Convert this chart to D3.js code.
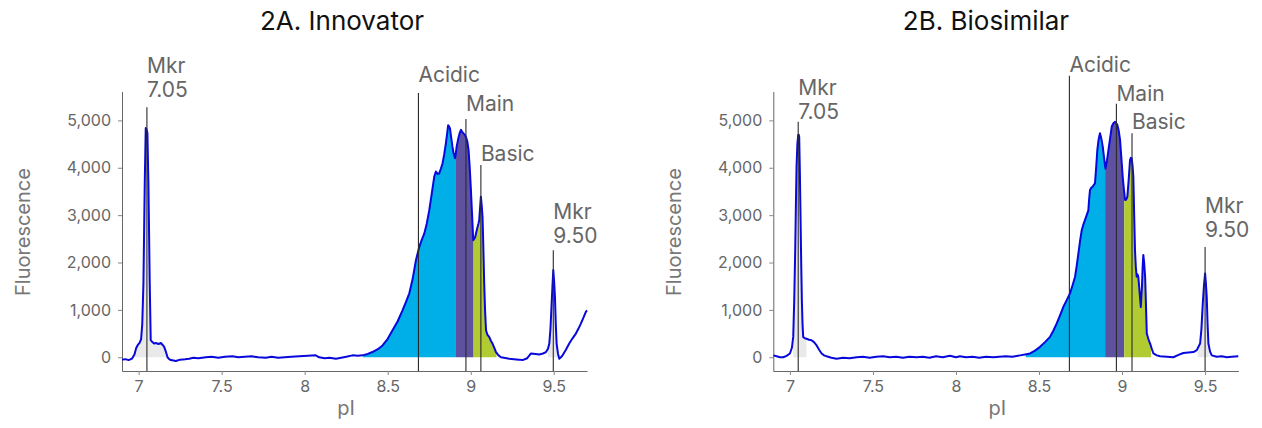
<!DOCTYPE html>
<html>
<head>
<meta charset="utf-8">
<script src="https://cdn.jsdelivr.net/npm/d3@7"></script>
<style>
  body { margin: 0; background: #fff; font-family: Inter, "Open Sans", sans-serif; }
  .tick text { font-family: Inter, sans-serif; }
</style>
</head>
<body>
<script>
// data
let innovatorPI = [6.90,6.92,6.94,6.96,6.975,6.985,6.995,7.005,7.015,7.022,7.029,7.037,7.043,7.047,7.053,7.059,7.067,7.073,7.083,7.093,7.104,7.12,7.134,7.145,7.154,7.164,7.174,7.184,7.194,7.21,7.224,7.25,7.28,7.304,7.33,7.36,7.405,7.44,7.48,7.52,7.565,7.60,7.64,7.68,7.72,7.766,7.80,7.84,7.88,7.92,7.967,8.02,8.067,8.087,8.12,8.15,8.188,8.22,8.25,8.288,8.32,8.348,8.38,8.408,8.44,8.469,8.50,8.529,8.56,8.589,8.61,8.63,8.65,8.67,8.69,8.705,8.72,8.735,8.75,8.765,8.78,8.79,8.80,8.81,8.82,8.83,8.84,8.85,8.857,8.864,8.870,8.875,8.882,8.89,8.897,8.905,8.91,8.915,8.925,8.933,8.941,8.948,8.955,8.963,8.971,8.979,8.987,8.994,9.001,9.008,9.015,9.021,9.027,9.034,9.041,9.047,9.051,9.056,9.061,9.066,9.071,9.076,9.081,9.086,9.092,9.10,9.111,9.121,9.131,9.142,9.152,9.167,9.182,9.20,9.232,9.26,9.29,9.312,9.34,9.363,9.39,9.413,9.435,9.453,9.465,9.473,9.48,9.487,9.492,9.497,9.502,9.507,9.512,9.517,9.525,9.533,9.543,9.553,9.573,9.593,9.613,9.633,9.648,9.663,9.678,9.693,9.70]
let innovatorFluor = [-50,-40,-60,-30,60,190,260,300,380,700,1560,3680,4840,4820,4730,3680,1560,360,320,290,300,280,300,260,220,120,0,-40,-60,-70,-80,-50,-40,-30,-10,-20,0,10,-10,10,20,0,10,20,0,-10,10,-10,0,10,20,30,40,0,-20,-10,-30,-10,10,40,30,40,70,110,170,250,390,570,760,990,1170,1350,1650,2050,2330,2480,2610,2820,3100,3450,3810,3920,3870,3880,3980,4090,4280,4510,4700,4900,4870,4830,4640,4440,4300,4200,4300,4440,4620,4730,4800,4760,4730,4700,4650,4560,4370,4000,3530,3000,2470,2500,2540,2650,2750,2830,2900,3150,3390,3200,2960,2300,1560,1000,570,480,430,350,290,200,110,40,0,-10,-30,-40,-50,-60,-20,80,70,60,80,110,180,290,600,1130,1500,1840,1600,1270,700,290,80,-30,0,40,160,290,400,500,600,710,830,960,990]

let biosimilarPI = [6.90,6.92,6.94,6.96,6.98,7.00,7.012,7.02,7.026,7.032,7.036,7.04,7.045,7.05,7.053,7.056,7.06,7.064,7.068,7.072,7.076,7.08,7.09,7.10,7.115,7.13,7.145,7.161,7.176,7.191,7.206,7.221,7.25,7.281,7.32,7.36,7.402,7.44,7.48,7.52,7.562,7.60,7.64,7.68,7.72,7.763,7.80,7.84,7.88,7.92,7.964,8.00,8.024,8.06,8.10,8.14,8.18,8.225,8.26,8.30,8.34,8.386,8.416,8.446,8.476,8.506,8.536,8.566,8.586,8.606,8.626,8.646,8.666,8.687,8.702,8.717,8.727,8.737,8.747,8.757,8.767,8.777,8.787,8.797,8.802,8.807,8.815,8.823,8.830,8.837,8.844,8.851,8.859,8.867,8.875,8.884,8.892,8.90,8.909,8.918,8.928,8.938,8.948,8.958,8.965,8.972,8.98,8.988,8.996,9.004,9.011,9.018,9.025,9.032,9.04,9.048,9.053,9.058,9.063,9.068,9.073,9.078,9.083,9.088,9.093,9.098,9.105,9.113,9.12,9.124,9.128,9.133,9.139,9.144,9.149,9.159,9.169,9.179,9.189,9.209,9.229,9.27,9.309,9.34,9.369,9.40,9.43,9.45,9.47,9.478,9.486,9.493,9.50,9.505,9.51,9.515,9.52,9.53,9.54,9.57,9.60,9.631,9.66,9.70]
let biosimilarFluor = [40,20,0,0,30,80,200,430,1200,2260,3200,4020,4500,4690,4700,4650,3900,2960,2000,1200,700,430,400,390,370,360,320,250,160,80,40,20,-10,-30,-10,-20,0,10,-10,10,20,0,10,-10,10,0,10,-10,20,0,30,0,20,0,10,-10,10,0,10,20,10,40,60,80,140,220,320,430,560,710,880,1060,1200,1350,1520,1700,1930,2190,2450,2680,2800,2900,3000,3100,3350,3530,3580,3600,3640,3670,4000,4370,4600,4730,4620,4440,4200,3980,4150,4370,4620,4870,4940,4970,4940,4900,4780,4590,4200,3810,3550,3320,3330,3390,3750,4160,4210,4200,4050,3810,3000,2260,1900,1700,1750,1700,1400,1060,1500,1900,2160,2000,1700,1100,500,380,290,180,80,40,20,10,0,50,90,100,110,150,290,600,1130,1500,1770,1550,1270,700,290,120,40,10,20,0,10,20]

let xTicks = [7, 7.5, 8, 8.5, 9, 9.5]
let yTicks = [0, 1000, 2000, 3000, 4000, 5000]

// peak annotations: marker pI, top of marker line and label baseline (fluorescence units)
let peakNames = [["Mkr", "7.05"], ["Acidic"], ["Main"], ["Basic"], ["Mkr", "9.50"]]
let innovatorPeakPI = [7.05, 8.685, 8.971, 9.061, 9.497]
let innovatorPeakTop = [5280, 5580, 5030, 4060, 2260]
let innovatorLabelAt = [5500, 5810, 5190, 4150, 2410]
let biosimilarPeakPI = [7.05, 8.683, 8.966, 9.06, 9.5]
let biosimilarPeakTop = [4970, 5940, 5350, 4730, 2330]
let biosimilarLabelAt = [5030, 6030, 5410, 4810, 2530]

// integrated regions [from, to] in pI
let innovatorRegions = [[6.98, 7.165], [8.35, 8.907], [8.907, 9.017], [9.017, 9.155], [9.465, 9.525]]
let biosimilarRegions = [[7.02, 7.10], [8.42, 8.898], [8.898, 9.013], [9.013, 9.175], [9.455, 9.525]]
let regionColors = ["#e9e9e9", "#00aee8", "#5e52a0", "#b1cc33", "#e9e9e9"]

let W = 1262, H = 428
let svg = d3.select("body").append("svg")
    .attr("width", W)
    .attr("height", H)

let panels = [
    {id: "a", title: "2A. Innovator", left: 122, titleX: 342, pi: innovatorPI, fl: innovatorFluor,
     peakPI: innovatorPeakPI, peakTop: innovatorPeakTop, labelAt: innovatorLabelAt, regions: innovatorRegions},
    {id: "b", title: "2B. Biosimilar", left: 773.3, titleX: 986, pi: biosimilarPI, fl: biosimilarFluor,
     peakPI: biosimilarPeakPI, peakTop: biosimilarPeakTop, labelAt: biosimilarLabelAt, regions: biosimilarRegions}
]

let plotTop = 91.5, plotBottom = 371, plotW = 465

panels.forEach(p => {
    let x = d3.scaleLinear().domain([6.9, 9.7]).range([p.left, p.left + plotW])
    let y = d3.scaleLinear().domain([-290, 5610]).range([plotBottom, plotTop])
    let pts = p.pi.map((v, i) => [v, p.fl[i]])
    let g = svg.append("g")

    // title
    g.append("text")
        .attr("x", p.titleX)
        .attr("y", 30)
        .attr("text-anchor", "middle")
        .attr("font-size", 26)
        .attr("fill", "#111")
        .text(p.title)

    // shaded regions under the trace
    let area = d3.area()
        .x(d => x(d[0]))
        .y0(y(0))
        .y1(d => y(Math.max(0, d[1])))
    p.regions.forEach((r, i) => {
        let cid = "clip-" + p.id + i
        svg.append("clipPath").attr("id", cid)
            .append("rect")
            .attr("x", x(r[0]))
            .attr("width", x(r[1]) - x(r[0]))
            .attr("y", 0)
            .attr("height", H)
        g.append("path")
            .datum(pts)
            .attr("clip-path", "url(#" + cid + ")")
            .attr("fill", regionColors[i])
            .attr("d", area)
    })

    // axes
    let yAxis = d3.axisLeft(y).tickValues(yTicks).tickSize(4).tickSizeOuter(0).tickPadding(7)
        .tickFormat(d3.format(","))
    let xAxis = d3.axisBottom(x).tickValues(xTicks).tickSize(4).tickSizeOuter(0).tickPadding(6)
        .tickFormat(d => d)
    let ya = g.append("g").attr("transform", "translate(" + p.left + ",0)").call(yAxis)
    let xa = g.append("g").attr("transform", "translate(0," + plotBottom + ")").call(xAxis)
    ;[ya, xa].forEach(a => {
        a.select(".domain").attr("stroke", "#666")
        a.selectAll(".tick line").attr("stroke", "#888")
        a.selectAll(".tick text").attr("fill", "#666").attr("font-size", 16)
    })

    // trace
    g.append("path")
        .datum(pts)
        .attr("fill", "none")
        .attr("stroke", "#0808dc")
        .attr("stroke-width", 2)
        .attr("stroke-linejoin", "round")
        .attr("d", d3.line().x(d => x(d[0])).y(d => y(d[1])))

    // peak markers and labels
    p.peakPI.forEach((v, i) => {
        g.append("line")
            .attr("x1", x(v)).attr("x2", x(v))
            .attr("y1", y(p.peakTop[i])).attr("y2", plotBottom)
            .attr("stroke", "#2a2a2a")
            .attr("stroke-width", 1.1)
        let lines = peakNames[i]
        let t = g.append("text")
            .attr("x", x(v))
            .attr("font-size", 21)
            .attr("fill", "#666")
        lines.forEach((s, k) => {
            t.append("tspan")
                .attr("x", x(v))
                .attr("y", y(p.labelAt[i]) - (lines.length - 1 - k) * 24)
                .text(s)
        })
    })

    // axis titles
    g.append("text")
        .attr("transform", "translate(" + (p.left - 92) + "," + 232 + ") rotate(-90)")
        .attr("text-anchor", "middle")
        .attr("font-size", 20)
        .attr("fill", "#777")
        .text("Fluorescence")
    g.append("text")
        .attr("x", p.left + 224)
        .attr("y", 415)
        .attr("text-anchor", "middle")
        .attr("font-size", 20)
        .attr("fill", "#777")
        .text("pI")
})
</script>
</body>
</html>
